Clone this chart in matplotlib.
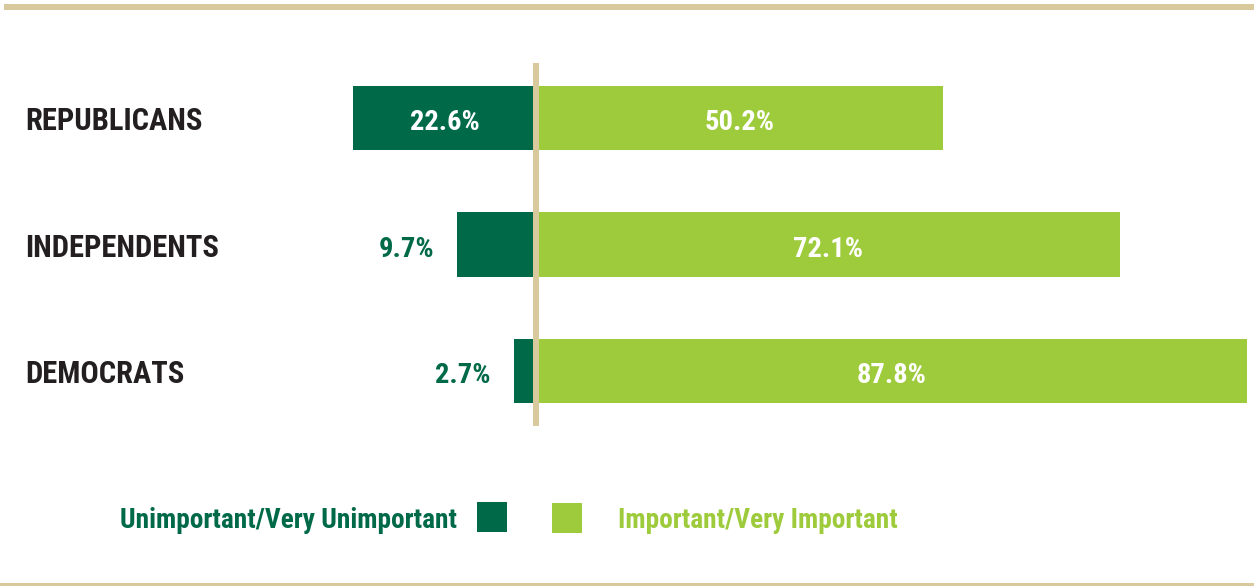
import matplotlib.pyplot as plt
from matplotlib import font_manager
from matplotlib.patches import Rectangle
from matplotlib.transforms import blended_transform_factory

# data
groups = ['REPUBLICANS', 'INDEPENDENTS', 'DEMOCRATS']
unimportant = [22.6, 9.7, 2.7]
important = [50.2, 72.1, 87.8]
legend_labels = ['Unimportant/Very Unimportant', 'Important/Very Important']

dark = '#006A48'
light = '#9DCB3C'
beige = '#D8CA9D'
ink = '#231F20'

# pick a narrow face if one is around
installed = {f.name for f in font_manager.fontManager.ttflist}
fam = [n for n in ['Liberation Sans Narrow', 'Roboto Condensed', 'Open Sans Condensed',
                   'DejaVu Sans'] if n in installed][:1] + ['DejaVu Sans']
txt = dict(family=fam, fontstretch='condensed', fontweight='bold')

W, H = 1254, 586
fig = plt.figure(figsize=(W / 100, H / 100), dpi=100)
ax = fig.add_axes([0, 0, 1, 1])
ax.axis('off')

# 0% sits at x=536px, about 8.1 px per percent; rows 126.5 px apart
px_per = 8.1
ax.set_xlim(-536 / px_per, (W - 536) / px_per)
ax.set_ylim((H - 118) / 126.5, -118 / 126.5)

ypos = list(range(len(groups)))
neg = [-v for v in unimportant]
ax.barh(ypos, neg, height=0.506, color=dark, zorder=2)
ax.barh(ypos, important, height=0.506, color=light, zorder=2)
ax.vlines(0, -0.435, len(groups) - 1 + 0.435, color=beige, lw=4.3, zorder=3)

lab_tr = blended_transform_factory(fig.transFigure, ax.transData)
for i, g in enumerate(groups):
    ax.text(25 / W, i + 0.095, g, transform=lab_tr, ha='left', va='baseline',
            fontsize=22, color=ink, **txt)
    u = unimportant[i]
    if u > 15:
        ax.text(-u / 2, i + 0.095, f'{u}%', ha='center', va='baseline',
                fontsize=20.5, color='white', zorder=4, **txt)
    else:
        ax.text(-u - 2.9, i + 0.095, f'{u}%', ha='right', va='baseline',
                fontsize=20.5, color=dark, zorder=4, **txt)
    ax.text(important[i] / 2, i + 0.095, f'{important[i]}%', ha='center', va='baseline',
            fontsize=20.5, color='white', zorder=4, **txt)

# legend drawn by hand
def px_rect(x0, y0, x1, y1, c):
    fig.add_artist(Rectangle((x0 / W, 1 - y1 / H), (x1 - x0) / W, (y1 - y0) / H,
                             transform=fig.transFigure, color=c, lw=0))

px_rect(477, 502, 507, 532, dark)
px_rect(552, 503, 582, 533, light)
fig.text(457 / W, 1 - 528 / H, legend_labels[0], ha='right', va='baseline',
         fontsize=19.7, color=dark, **txt)
fig.text(618 / W, 1 - 528 / H, legend_labels[1], ha='left', va='baseline',
         fontsize=19.7, color=light, **txt)

# top and bottom rules
px_rect(4, 4, W, 10, beige)
px_rect(0, 583, W, H, beige)

fig.savefig('out.png', dpi=100)
